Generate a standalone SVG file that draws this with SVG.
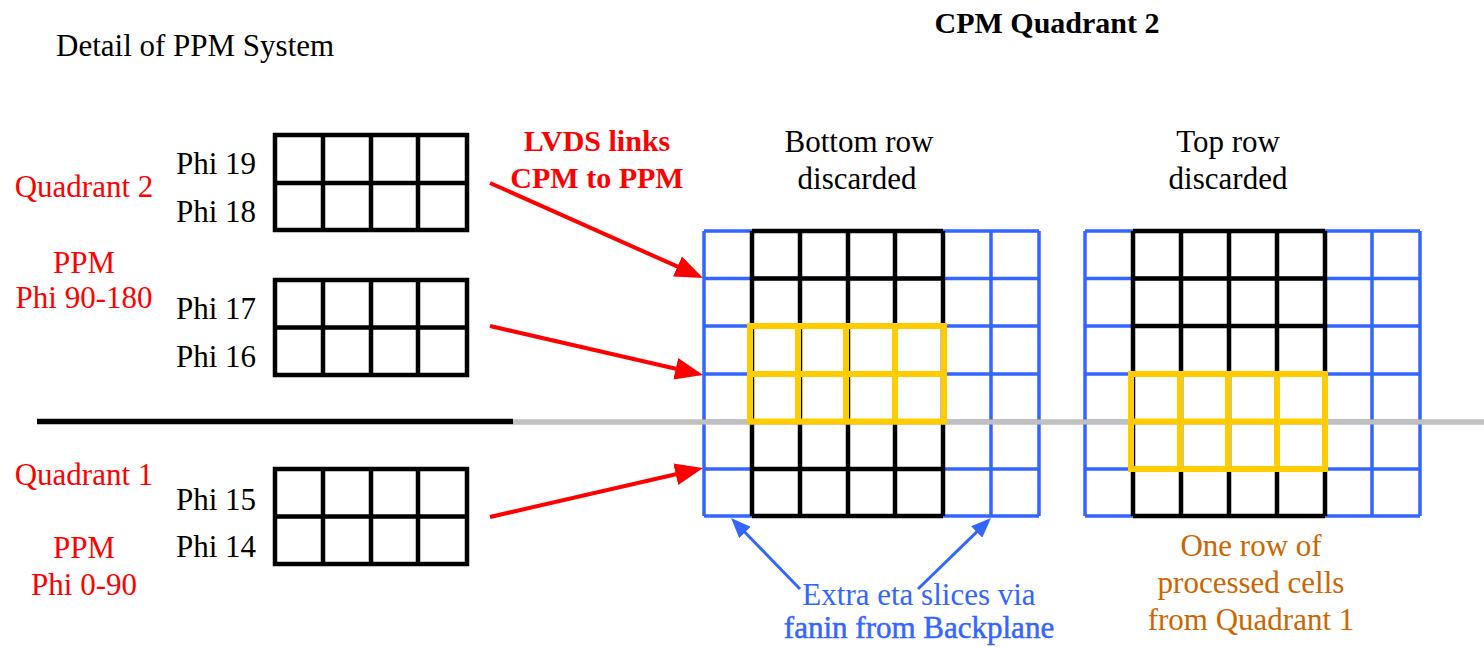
<svg xmlns="http://www.w3.org/2000/svg" width="1484" height="647" viewBox="0 0 1484 647">
<defs>
<style>
text{font-family:"Liberation Serif","Times New Roman",serif;font-size:31px}
.blk{fill:#000}
.red{fill:#FF0000}
.bold{font-weight:bold;font-size:30px}
.mid{text-anchor:middle}
.blue{fill:#3366FF}
.org{fill:#CC6600}
.ppm{fill:none;stroke:#000;stroke-width:4.5}
.gb{fill:none;stroke:#3366FF;stroke-width:3.5}
.gk{fill:none;stroke:#000;stroke-width:4.5}
.gy{fill:none;stroke:#FFCC00;stroke-width:6}
.ra{stroke:#FF0000;stroke-width:4;fill:none;marker-end:url(#rh)}
.ba{stroke:#3366FF;stroke-width:3;fill:none;marker-end:url(#bh)}
</style>
<marker id="rh" markerUnits="userSpaceOnUse" markerWidth="28" markerHeight="22" refX="18" refY="11" orient="auto"><path d="M0,0 L28,11 L0,22 z" fill="#FF0000"/></marker>
<marker id="bh" markerUnits="userSpaceOnUse" markerWidth="20" markerHeight="16" refX="12" refY="8" orient="auto"><path d="M0,0 L20,8 L0,16 z" fill="#3366FF"/></marker>
</defs>
<rect width="1484" height="647" fill="#fff"/>

<g id="titles">
<text x="56" y="56" class="blk">Detail of PPM System</text>
<text x="1047" y="33" class="blk bold mid">CPM Quadrant 2</text>
</g>

<g id="quadrant-labels">
<text x="84" y="197" class="red mid">Quadrant 2</text>
<text x="84" y="273" class="red mid">PPM</text>
<text x="84" y="308" class="red mid">Phi 90-180</text>
<text x="84" y="485" class="red mid">Quadrant 1</text>
<text x="84" y="558" class="red mid">PPM</text>
<text x="84" y="595" class="red mid">Phi 0-90</text>
</g>

<g id="divider">
<line x1="513" y1="422" x2="1484" y2="422" stroke="#C0C0C0" stroke-width="5"/>
<line x1="37" y1="421.5" x2="513" y2="421.5" stroke="#000" stroke-width="5.5"/>
</g>

<g id="ppm-phi19-18">
<text x="176" y="174" class="blk">Phi 19</text>
<text x="176" y="222" class="blk">Phi 18</text>
<rect x="275" y="135" width="192" height="95" class="ppm"/>
<path d="M275,183H467M323,135V230M371,135V230M418,135V230" class="ppm"/>
</g>

<g id="ppm-phi17-16">
<text x="176" y="319" class="blk">Phi 17</text>
<text x="176" y="367" class="blk">Phi 16</text>
<rect x="275" y="280" width="192" height="95" class="ppm"/>
<path d="M275,327.5H467M323,280V375M371,280V375M418,280V375" class="ppm"/>
</g>

<g id="ppm-phi15-14">
<text x="176" y="510" class="blk">Phi 15</text>
<text x="176" y="557" class="blk">Phi 14</text>
<rect x="275" y="469" width="192" height="95" class="ppm"/>
<path d="M275,516.5H467M323,469V564M371,469V564M418,469V564" class="ppm"/>
</g>

<g id="cpm-grid-bottom-discarded">
<text x="859" y="152" class="blk mid">Bottom row</text>
<text x="857" y="189" class="blk mid">discarded</text>
<path d="M704,231H1039M704,278.5H1039M704,326H1039M704,374H1039M704,421.5H1039M704,469H1039M704,516H1039M704,231V516M991,231V516M1039,231V516" class="gb"/>
<path d="M752,231H943M752,278.5H943M752,326H943M752,374H943M752,421.5H943M752,469H943M752,516H943M752,231V516M800,231V516M848,231V516M895,231V516M943,231V516" class="gk"/>
</g>

<g id="cpm-grid-top-discarded">
<text x="1228" y="152" class="blk mid">Top row</text>
<text x="1228" y="189" class="blk mid">discarded</text>
<path d="M1085,231H1420M1085,278.5H1420M1085,326H1420M1085,374H1420M1085,421.5H1420M1085,469H1420M1085,516H1420M1085,231V516M1372,231V516M1420,231V516" class="gb"/>
<path d="M1133,231H1325M1133,278.5H1325M1133,326H1325M1133,374H1325M1133,421.5H1325M1133,469H1325M1133,516H1325M1133,231V516M1181,231V516M1229,231V516M1277,231V516M1325,231V516" class="gk"/>
</g>

<g id="gray-line-over">
<line x1="513" y1="422" x2="1484" y2="422" stroke="#C0C0C0" stroke-width="5"/>
</g>

<g id="yellow-region-1">
<rect x="750" y="326" width="194" height="95.5" class="gy"/>
<path d="M750,374H944M798,326V421.5M846,326V421.5M895,326V421.5" class="gy"/>
</g>

<g id="yellow-region-2">
<rect x="1131" y="374" width="194" height="95" class="gy"/>
<path d="M1131,421.5H1325M1180,374V469M1228,374V469M1277,374V469" class="gy"/>
</g>

<g id="connectors">
<line x1="490" y1="183" x2="693.9" y2="273.9" class="ra"/>
<line x1="490" y1="326" x2="693.3" y2="372.8" class="ra"/>
<line x1="490" y1="517" x2="693.3" y2="470.2" class="ra"/>
<line x1="800" y1="589" x2="736.6" y2="523.7" class="ba"/>
<line x1="918" y1="589" x2="985.3" y2="523.6" class="ba"/>
</g>

<g id="labels">
<text x="597" y="151" class="red bold mid">LVDS links</text>
<text x="597" y="188" class="red bold mid">CPM to PPM</text>
<text x="919" y="605" class="blue mid">Extra eta slices via</text>
<text x="919" y="638" class="blue mid" stroke="#3366FF" stroke-width="0.5">fanin from Backplane</text>
<text x="1251" y="556" class="org mid">One row of</text>
<text x="1251" y="593" class="org mid">processed cells</text>
<text x="1251" y="630" class="org mid">from Quadrant 1</text>
</g>
</svg>
